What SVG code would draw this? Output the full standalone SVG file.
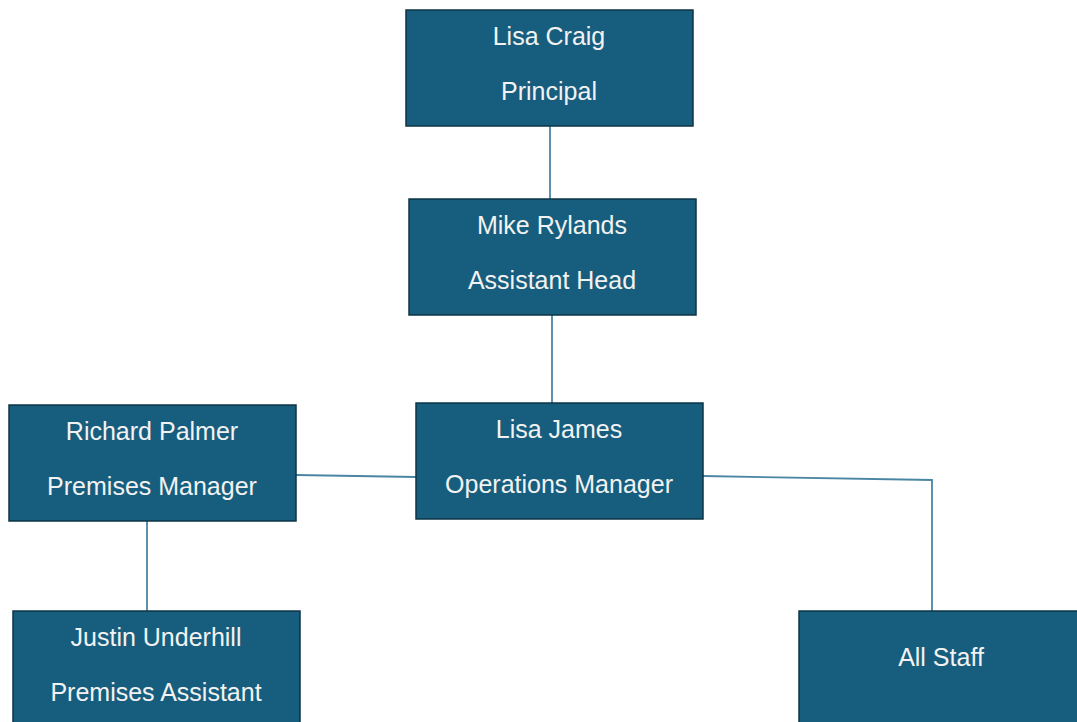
<svg xmlns="http://www.w3.org/2000/svg" width="1077" height="722" viewBox="0 0 1077 722">
<style>
.box{fill:#175E7E;stroke:#0E3447;stroke-width:1.5}
.t{font-family:"Liberation Sans",Arial,sans-serif;font-size:25px;fill:#F2F2F2;text-anchor:middle}
.c{fill:none;stroke:#4A86A3;stroke-width:1.8}
</style>
<rect width="1077" height="722" fill="#FFFFFF"/>
<g id="connectors">
<line class="c" x1="550" y1="126" x2="550" y2="199"/>
<line class="c" x1="552" y1="315" x2="552" y2="403"/>
<line class="c" x1="296" y1="475" x2="416" y2="477"/>
<polyline class="c" points="703,476 932,480 932,611"/>
<line class="c" x1="147" y1="521" x2="147" y2="611"/>
</g>
<g id="lisa-craig">
<rect class="box" x="406" y="10" width="287" height="116"/>
<text class="t" x="549" y="45">Lisa Craig</text>
<text class="t" x="549" y="100">Principal</text>
</g>
<g id="mike-rylands">
<rect class="box" x="409" y="199" width="287" height="116"/>
<text class="t" x="552" y="234">Mike Rylands</text>
<text class="t" x="552" y="289">Assistant Head</text>
</g>
<g id="lisa-james">
<rect class="box" x="416" y="403" width="287" height="116"/>
<text class="t" x="559" y="438">Lisa James</text>
<text class="t" x="559" y="493">Operations Manager</text>
</g>
<g id="richard-palmer">
<rect class="box" x="9" y="405" width="287" height="116"/>
<text class="t" x="152" y="440">Richard Palmer</text>
<text class="t" x="152" y="495">Premises Manager</text>
</g>
<g id="justin-underhill">
<rect class="box" x="13" y="611" width="287" height="120"/>
<text class="t" x="156" y="646">Justin Underhill</text>
<text class="t" x="156" y="701">Premises Assistant</text>
</g>
<g id="all-staff">
<rect class="box" x="799" y="611" width="290" height="120"/>
<text class="t" x="941" y="666">All Staff</text>
</g>
</svg>
